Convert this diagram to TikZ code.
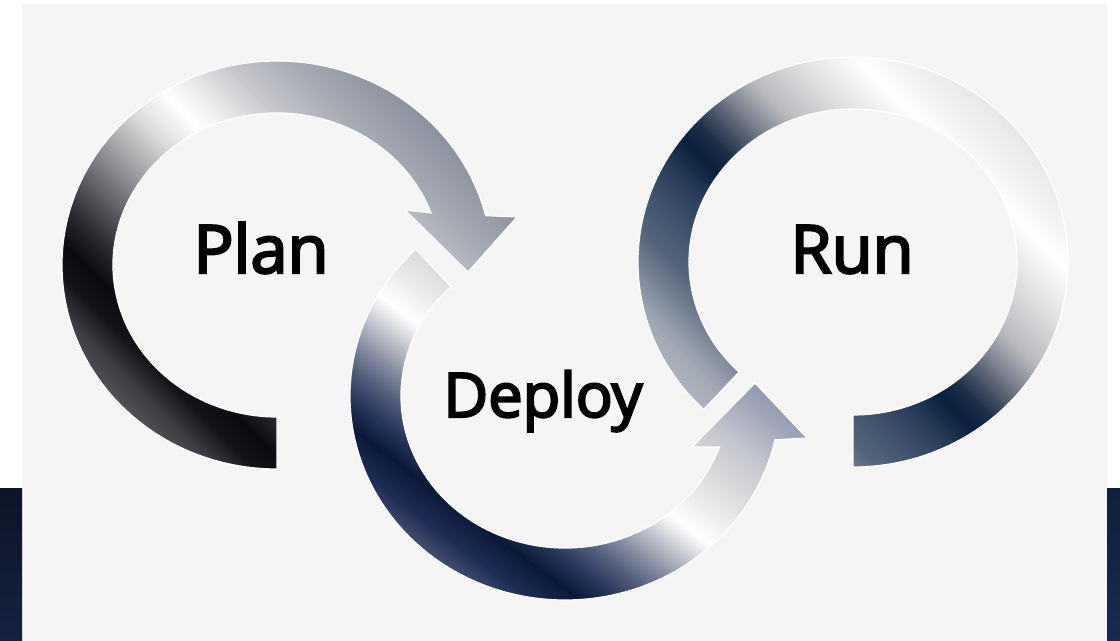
\documentclass[tikz,border=0pt]{standalone}
\usepackage{fontspec}
\setmainfont{Open Sans}
\newfontfamily\lblfont{Open Sans}[FakeBold=3.5]
\definecolor{bgpanel}{HTML}{F5F5F5}
% Plan stops
\definecolor{pA}{HTML}{5A5A60}\definecolor{pB}{HTML}{3C3C42}\definecolor{pC}{HTML}{151519}
\definecolor{pD}{HTML}{0B0B10}\definecolor{pE}{HTML}{2A2A30}\definecolor{pF}{HTML}{626268}
\definecolor{pG}{HTML}{9A9A9E}\definecolor{pH}{HTML}{DADADA}\definecolor{pI}{HTML}{FFFFFF}
\definecolor{pJ}{HTML}{F0F0F0}\definecolor{pK}{HTML}{C8C9CD}\definecolor{pL}{HTML}{A6AAB3}
\definecolor{pM}{HTML}{8A909E}
% Deploy stops
\definecolor{dA}{HTML}{5A6480}\definecolor{dB}{HTML}{1F2D55}\definecolor{dC}{HTML}{0A1838}
\definecolor{dD}{HTML}{2A385E}\definecolor{dE}{HTML}{56627E}\definecolor{dF}{HTML}{8E95A8}
\definecolor{dG}{HTML}{D8D9DE}\definecolor{dH}{HTML}{FFFFFF}\definecolor{dI}{HTML}{EFEFF1}
\definecolor{dJ}{HTML}{DADADC}\definecolor{dK}{HTML}{C3C5CC}\definecolor{dL}{HTML}{A2A8BA}
\definecolor{dM}{HTML}{8890AC}
% Run stops
\definecolor{rA}{HTML}{B4B9C3}\definecolor{rB}{HTML}{A0A8B4}\definecolor{rC}{HTML}{7A8698}
\definecolor{rD}{HTML}{55657B}\definecolor{rE}{HTML}{435570}\definecolor{rF}{HTML}{2A3D5A}
\definecolor{rG}{HTML}{0B1F3C}\definecolor{rH}{HTML}{1E3048}\definecolor{rI}{HTML}{6A7282}
\definecolor{rJ}{HTML}{B8B9BD}\definecolor{rK}{HTML}{DCDCDE}\definecolor{rL}{HTML}{FFFFFF}
\definecolor{rM}{HTML}{F4F4F5}\definecolor{rN}{HTML}{E4E4E6}
% side bars
\definecolor{navyT}{HTML}{0D1627}\definecolor{navyB}{HTML}{14223F}
\definecolor{navyT2}{HTML}{11203A}\definecolor{navyB2}{HTML}{182C4E}

\newcommand\metalstrips[3]{%
  \begin{scope}[transform canvas={rotate=#1}]
    \foreach \a/\ca/\b/\cb in {#3}
      {\shade[left color=\ca, right color=\cb] ({#2*\a-0.4},100) rectangle ({#2*\b+0.4},-1400);}
  \end{scope}}

\tikzset{
  lbl/.style={inner sep=0pt, anchor=base, text=black, font=\lblfont\fontsize{50}{60}\selectfont},
  ringedge/.style={draw=white, line width=0.9pt},
}

\begin{document}
\begin{tikzpicture}[x=0.75pt,y=0.75pt]
\useasboundingbox (0,0) rectangle (1120,-641);
\fill[white] (0,0) rectangle (1120,-641);
\fill[bgpanel] (22,-4) rectangle (1107,-641);
\shade[top color=navyT, bottom color=navyB] (0,-488) rectangle (22,-641);
\shade[top color=navyT2, bottom color=navyB2] (1107,-488) rectangle (1120,-641);

% ---------- Plan ring ----------
\begin{scope}
  \clip[shift={(277,-265)}] (270:215 and 204)
     arc[start angle=270, end angle=14, x radius=215, y radius=204]
     -- (240,48) -- (191,-7) -- (128,55)
     -- (20:164 and 152)
     arc[start angle=20, end angle=270, x radius=164, y radius=152] -- cycle;
  \metalstrips{45}{0.70711}{-2000/pA/-300/pA,-300/pA/-250/pB,-250/pB/-215/pC,-215/pC/-180/pD,
    -180/pD/-140/pE,-140/pE/-90/pF,-90/pF/-40/pG,-40/pG/20/pH,20/pH/70/pI,70/pI/100/pJ,
    100/pJ/160/pK,160/pK/230/pL,230/pL/310/pM,310/pM/2000/pM}
\end{scope}
\path[ringedge, shift={(277,-265)}] (270:215 and 204)
     arc[start angle=270, end angle=14, x radius=215, y radius=204]
     -- (240,48) -- (191,-7) -- (128,55)
     -- (20:164 and 152)
     arc[start angle=20, end angle=270, x radius=164, y radius=152] -- cycle;

% ---------- Deploy ring ----------
\begin{scope}
  \clip[shift={(565,-396)}] (134:215 and 204)
     arc[start angle=134, end angle=347.6, x radius=215, y radius=204]
     -- (242,-42) -- (190,13) -- (127,-51)
     -- (340.4:164 and 152)
     arc[start angle=340.4, end angle=134, x radius=164, y radius=152] -- cycle;
  \metalstrips{53}{1}{-2000/dA/-200/dA,-200/dA/-160/dB,-160/dB/-130/dC,-130/dC/-105/dD,
    -105/dD/-80/dE,-80/dE/-55/dF,-55/dF/-25/dG,-25/dG/-8/dH,-8/dH/15/dI,15/dI/50/dJ,
    50/dJ/90/dK,90/dK/125/dL,125/dL/160/dM,160/dM/2000/dM}
\end{scope}
\path[ringedge, shift={(565,-396)}] (134:215 and 204)
     arc[start angle=134, end angle=347.6, x radius=215, y radius=204]
     -- (242,-42) -- (190,13) -- (127,-51)
     -- (340.4:164 and 152)
     arc[start angle=340.4, end angle=134, x radius=164, y radius=152] -- cycle;

% ---------- Run ring ----------
\begin{scope}
  \clip[shift={(853,-262)}] (226:215 and 205)
     arc[start angle=226, end angle=-90, x radius=215, y radius=205]
     -- (-90:164 and 153)
     arc[start angle=-90, end angle=226, x radius=164, y radius=153] -- cycle;
  \metalstrips{45}{0.70711}{-2000/rA/280/rA,280/rA/330/rB,330/rB/370/rC,370/rC/410/rD,
    410/rD/450/rE,450/rE/500/rF,500/rF/545/rG,545/rG/575/rH,575/rH/620/rI,620/rI/670/rJ,
    670/rJ/730/rK,730/rK/800/rL,800/rL/830/rM,830/rM/900/rN,900/rN/3000/rN}
\end{scope}
\path[ringedge, shift={(853,-262)}] (226:215 and 205)
     arc[start angle=226, end angle=-90, x radius=215, y radius=205]
     -- (-90:164 and 153)
     arc[start angle=-90, end angle=226, x radius=164, y radius=153] -- cycle;

% ---------- labels ----------
\node[lbl] (plan) at (261,-273) {Plan};
\node[lbl] (run) at (852,-273) {Run};
\node[lbl, font=\lblfont\fontsize{46}{55}\selectfont] (deploy) at (543,-417) {Deploy};
\end{tikzpicture}
\end{document}
